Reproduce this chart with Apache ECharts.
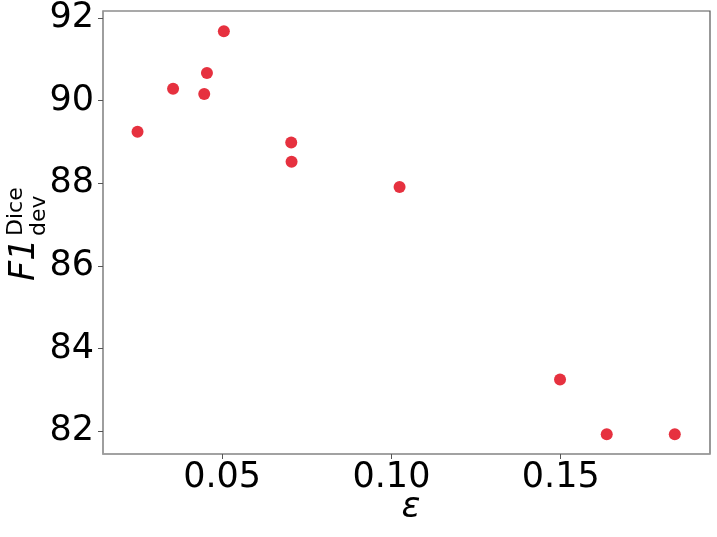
<!DOCTYPE html>
<html>
<head>
<meta charset="utf-8">
<script src="https://cdn.jsdelivr.net/npm/echarts@6/dist/echarts.min.js"></script>
<style>
html,body{margin:0;padding:0;background:#fff;}
#c{width:717px;height:537px;}
</style>
</head>
<body>
<div id="c"></div>
<script>
const epsilon = [0.0250, 0.0355, 0.0447, 0.0455, 0.0505, 0.0704, 0.0705, 0.1024, 0.1498, 0.1636, 0.1837];
const f1Dev = [89.25, 90.29, 90.16, 90.67, 91.68, 88.99, 88.52, 87.91, 83.25, 81.93, 81.93];
const xTicks = [0.05, 0.10, 0.15];
const yTicks = [82, 84, 86, 88, 90, 92];

const chart = echarts.init(document.getElementById('c'));
const FONT = 'DejaVu Sans';
chart.setOption({
  animation: false,
  backgroundColor: '#fff',
  grid: {left: 103, top: 11, right: 7, bottom: 83, show: true, borderColor: '#555', borderWidth: 1.2, backgroundColor: 'transparent'},
  xAxis: {
    type: 'value', min: 0.0148, max: 0.1941,
    axisLine: {show: true, onZero: false, lineStyle: {color: '#a0a0a0', width: 1.5}},
    axisTick: {show: true, length: 5, lineStyle: {color: '#555'}, customValues: xTicks},
    axisLabel: {fontFamily: FONT, fontSize: 35, color: '#000', margin: 6, customValues: xTicks,
      formatter: v => v.toFixed(2)},
    splitLine: {show: false}
  },
  yAxis: {
    type: 'value', min: 81.45, max: 92.17,
    axisLine: {show: true, onZero: false, lineStyle: {color: '#a0a0a0', width: 1.5}},
    axisTick: {show: true, length: 5, lineStyle: {color: '#555'}, customValues: yTicks},
    axisLabel: {fontFamily: FONT, fontSize: 35, color: '#000', margin: 9, customValues: yTicks,
      formatter: v => String(Math.round(v))},
    splitLine: {show: false}
  },
  graphic: [
    {type: 'text', x: 411, y: 508,
      style: {text: 'ε', font: 'italic 35px "DejaVu Sans"', fill: '#000', textAlign: 'center', textVerticalAlign: 'middle'}},
    {type: 'group', x: 25, y: 281, rotation: Math.PI / 2, children: [
      {type: 'text', x: 0, y: 0, style: {text: 'F1', font: 'italic 35px "DejaVu Sans"', fill: '#000', textAlign: 'left', textVerticalAlign: 'middle'}},
      {type: 'text', x: 45, y: -9, style: {text: 'Dice', font: '22px "DejaVu Sans"', fill: '#000', textAlign: 'left', textVerticalAlign: 'middle'}},
      {type: 'text', x: 45, y: 14, style: {text: 'dev', font: '22px "DejaVu Sans"', fill: '#000', textAlign: 'left', textVerticalAlign: 'middle'}}
    ]}
  ],
  series: [{
    type: 'scatter',
    data: epsilon.map((x, i) => [x, f1Dev[i]]),
    symbolSize: 12,
    itemStyle: {color: '#e6313f', opacity: 1}
  }]
});
</script>
</body>
</html>
